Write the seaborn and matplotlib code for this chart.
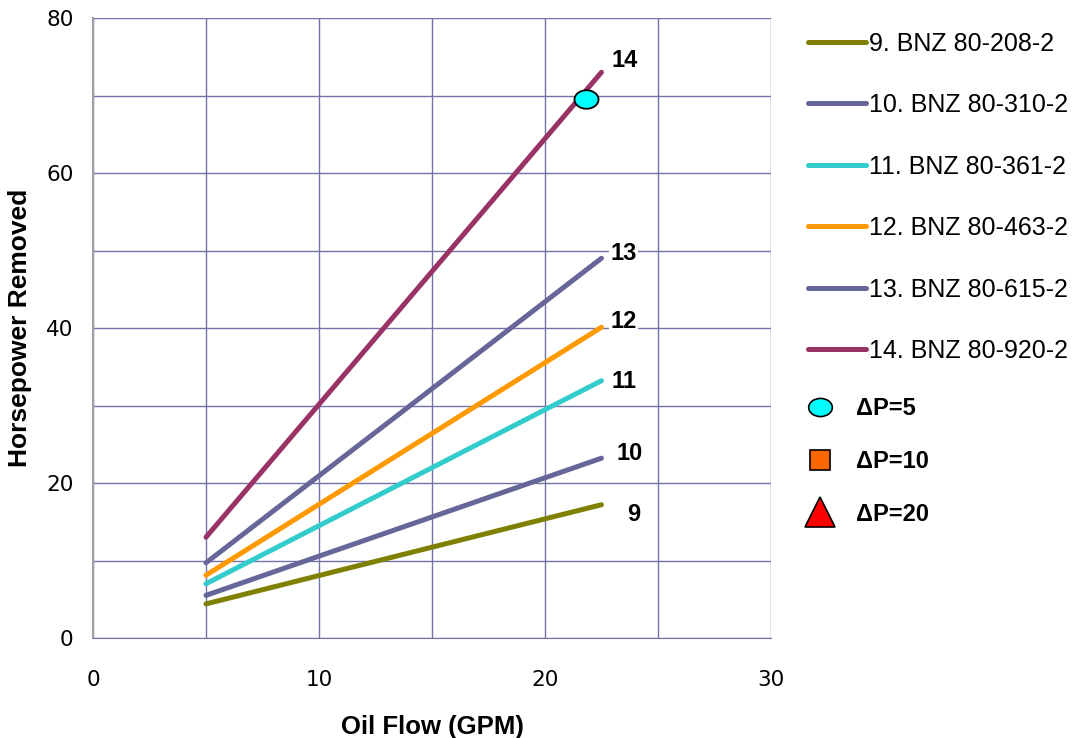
import matplotlib.pyplot as plt
import pandas as pd
import seaborn as sns
from matplotlib.lines import Line2D
from matplotlib.markers import MarkerStyle
from matplotlib.path import Path
from matplotlib.transforms import Affine2D

# ---------------------------------------------------------------------------
# data
# ---------------------------------------------------------------------------
series_names = ["9. BNZ 80-208-2", "10. BNZ 80-310-2", "11. BNZ 80-361-2",
                "12. BNZ 80-463-2", "13. BNZ 80-615-2", "14. BNZ 80-920-2"]
end_labels = ["9", "10", "11", "12", "13", "14"]
oil_flow = [5, 22.5]
hp_9 = [4.4, 17.2]
hp_10 = [5.5, 23.2]
hp_11 = [7.0, 33.2]
hp_12 = [8.1, 40.1]
hp_13 = [9.7, 49.0]
hp_14 = [13.0, 73.0]
colors = ["#808000", "#666699", "#33cccc", "#ff9900", "#666699", "#993366"]

dp5_flow = [21.8]
dp5_hp = [69.6]
marker_labels = ["ΔP=5", "ΔP=10", "ΔP=20"]

# label offsets from line end (pixels)
label_offsets = [(32, -10), (28, 5), (23, -1), (22, 6), (22, 5), (23, 12)]

rows = []
for name, ys in zip(series_names, [hp_9, hp_10, hp_11, hp_12, hp_13, hp_14]):
    for x, y in zip(oil_flow, ys):
        rows.append({"flow": x, "hp": y, "series": name})
df = pd.DataFrame(rows)

sns.set_style("white")
plt.rcParams["font.family"] = ["Liberation Sans", "DejaVu Sans"]
plt.rcParams["text.color"] = "black"
plt.rcParams["axes.labelcolor"] = "black"
plt.rcParams["xtick.color"] = "black"
plt.rcParams["ytick.color"] = "black"

fig = plt.figure(figsize=(10.76, 7.38), dpi=100)
ax = fig.add_axes([0.0864, 0.1355, 0.6301, 0.8401])

grid_c = "#7272a8"
ax.set_xlim(0, 30)
ax.set_ylim(0, 80)
ax.grid(True, color=grid_c, lw=1.0)
ax.set_axisbelow(True)
for s in ["top", "right"]:
    ax.spines[s].set_visible(False)
ax.spines["left"].set_color("#a0a0a0")
ax.spines["bottom"].set_color(grid_c)
ax.spines["left"].set_linewidth(1.5)

sns.lineplot(data=df, x="flow", y="hp", hue="series", palette=colors,
             hue_order=series_names, lw=3.6, ax=ax, legend=False,
             solid_capstyle="round", zorder=3)

ellipse = Path.unit_circle().transformed(Affine2D().scale(1.3, 1.0))
sns.scatterplot(x=dp5_flow, y=dp5_hp, marker=MarkerStyle(ellipse), s=300,
                color="#00ffff", edgecolor="black", linewidth=1.3, ax=ax, zorder=5)

for lab, ys, off in zip(end_labels, [hp_9, hp_10, hp_11, hp_12, hp_13, hp_14], label_offsets):
    ax.annotate(lab, (oil_flow[-1], ys[-1]), xytext=off, textcoords="offset pixels",
                ha="center", va="center", fontsize=17, fontweight="bold",
                bbox=dict(fc="white", ec="none", pad=1), zorder=6)

xt = [0, 10, 20, 30]
ax.set_xticks(range(0, 31, 5))
ax.set_yticks(range(0, 81, 10))
ax.set_xticklabels([str(v) if v in xt else "" for v in range(0, 31, 5)])
ax.set_yticklabels([str(v) if v % 20 == 0 else "" for v in range(0, 81, 10)])
ax.tick_params(axis="both", length=0, labelsize=15.5)
ax.tick_params(axis="x", pad=23)
ax.tick_params(axis="y", pad=14)
for t in ax.get_xticklabels() + ax.get_yticklabels():
    t.set_family("DejaVu Sans")

ax.set_xlabel("Oil Flow (GPM)", fontsize=18.5, fontweight="bold", labelpad=18)
ax.set_ylabel("Horsepower Removed", fontsize=19, fontweight="bold", labelpad=10)

line_handles = [Line2D([], [], color=c, lw=3.6) for c in colors]
leg1 = ax.legend(line_handles, series_names, loc="upper left",
                 bbox_to_anchor=(0.751, 0.957), bbox_transform=fig.transFigure,
                 frameon=False, fontsize=18, handlelength=2.3, handletextpad=0.15,
                 labelspacing=1.5, borderaxespad=0, borderpad=0)
ax.add_artist(leg1)

mk_handles = [
    Line2D([], [], ls="none", marker=MarkerStyle(ellipse), ms=17, mfc="#00ffff", mec="black", mew=1.2),
    Line2D([], [], ls="none", marker="s", ms=15, mfc="#ff6600", mec="black", mew=1.2),
    Line2D([], [], ls="none", marker="^", ms=22, mfc="#ff0000", mec="black", mew=1.2),
]
leg2 = ax.legend(mk_handles, marker_labels, loc="upper left",
                 bbox_to_anchor=(0.749, 0.462), bbox_transform=fig.transFigure,
                 frameon=False, handlelength=1.2, handletextpad=0.9,
                 labelspacing=1.26, borderaxespad=0, borderpad=0,
                 prop={"size": 17, "weight": "bold"})

fig.savefig("out.png", dpi=100)
